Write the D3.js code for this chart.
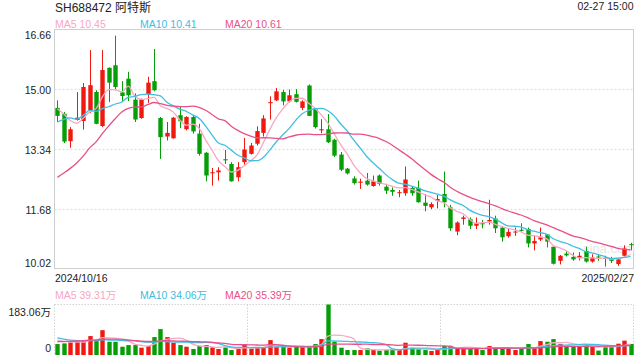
<!DOCTYPE html>
<html><head><meta charset="utf-8">
<script src="https://cdn.jsdelivr.net/npm/d3@7/dist/d3.min.js"></script>
<style>
html,body{margin:0;padding:0;background:#fff}
svg{display:block}
text{font-family:"Liberation Sans",Arial,"Noto Sans CJK SC",sans-serif}
</style>
</head><body>
<svg id="c" width="640" height="360"></svg>
<script>
// ---------- data ----------
const title = "SH688472 阿特斯";
const timeLabel = "02-27 15:00";
const dates = [
"2024/10/16","2024/10/17","2024/10/18","2024/10/21","2024/10/22","2024/10/23","2024/10/24","2024/10/25","2024/10/28","2024/10/29","2024/10/30","2024/10/31",
"2024/11/01","2024/11/04","2024/11/05","2024/11/06","2024/11/07","2024/11/08","2024/11/11","2024/11/12","2024/11/13","2024/11/14","2024/11/15","2024/11/18","2024/11/19","2024/11/20","2024/11/21","2024/11/22","2024/11/25","2024/11/26","2024/11/27","2024/11/28","2024/11/29",
"2024/12/02","2024/12/03","2024/12/04","2024/12/05","2024/12/06","2024/12/09","2024/12/10","2024/12/11","2024/12/12","2024/12/13","2024/12/16","2024/12/17","2024/12/18","2024/12/19","2024/12/20","2024/12/23","2024/12/24","2024/12/25","2024/12/26","2024/12/27","2024/12/30","2024/12/31",
"2025/01/02","2025/01/03","2025/01/06","2025/01/07","2025/01/08","2025/01/09","2025/01/10","2025/01/13","2025/01/14","2025/01/15","2025/01/16","2025/01/17","2025/01/20","2025/01/21","2025/01/22","2025/01/23","2025/01/24","2025/01/27",
"2025/02/05","2025/02/06","2025/02/07","2025/02/10","2025/02/11","2025/02/12","2025/02/13","2025/02/14","2025/02/17","2025/02/18","2025/02/19","2025/02/20","2025/02/21","2025/02/24","2025/02/25","2025/02/26","2025/02/27"
];
const open = [14.49,14.33,13.57,14.16,14.13,14.42,14.93,13.99,15.60,15.67,14.92,15.30,14.72,14.21,14.87,15.23,14.21,13.70,13.65,14.29,
13.90,14.24,13.78,13.25,12.68,12.71,13.07,12.94,12.57,12.99,13.22,13.50,13.80,14.62,14.70,14.93,14.67,14.87,14.49,15.11,
14.47,13.87,13.90,13.61,13.20,12.81,12.54,12.42,12.48,12.33,12.62,12.31,12.22,12.14,12.13,12.28,12.28,11.87,11.74,11.92,
12.11,11.74,11.07,11.42,11.41,11.23,11.30,11.35,11.43,11.18,10.94,11.05,11.12,11.14,10.74,10.85,10.99,10.65,10.26,10.46,
10.37,10.35,10.53,10.24,10.38,10.34,10.32,10.17,10.40,10.72];
const high = [14.70,14.38,13.96,14.93,15.18,16.09,14.98,16.09,15.61,16.49,15.23,15.49,14.89,14.75,15.35,16.12,14.24,14.10,14.24,14.52,
14.26,14.29,14.05,13.27,12.83,12.85,13.33,12.99,12.99,13.66,13.52,13.98,14.29,14.81,15.04,14.99,15.00,15.01,14.70,15.14,
14.49,14.18,14.32,13.64,13.27,12.83,12.60,12.53,12.69,12.62,12.65,12.39,12.29,12.22,12.87,12.31,12.48,12.11,11.88,12.08,
12.73,11.81,11.35,11.51,11.46,11.46,11.39,11.95,11.51,11.20,11.14,11.18,11.30,11.18,10.95,11.18,11.00,10.65,10.42,10.53,
10.49,10.50,10.65,10.44,10.44,10.40,10.37,10.34,10.69,10.76];
const low = [14.10,13.52,13.39,14.14,13.89,14.35,14.04,13.96,14.65,14.98,14.65,14.68,14.10,14.19,14.63,14.95,13.08,13.59,13.64,13.93,
13.87,13.78,13.17,12.46,12.34,12.48,12.94,12.45,12.46,12.92,13.20,13.45,13.70,14.17,14.68,14.56,14.64,14.64,14.43,14.27,
13.92,13.79,13.52,13.13,12.74,12.65,12.37,12.25,12.34,12.31,12.34,12.11,12.06,12.02,12.06,12.06,11.87,11.63,11.69,11.71,
11.74,11.09,10.97,11.26,11.14,11.14,11.16,11.26,11.03,10.79,10.90,10.95,11.07,10.63,10.55,10.81,10.63,10.16,10.16,10.38,
10.26,10.27,10.21,10.21,10.26,10.10,10.20,10.12,10.37,10.55];
const close = [14.27,13.56,13.90,14.22,15.07,15.12,14.05,15.54,15.19,15.07,14.82,14.84,14.17,14.73,15.19,14.98,13.68,13.80,14.22,14.12,
14.24,13.84,13.22,12.62,12.71,12.76,13.04,12.46,12.85,13.34,13.45,13.85,14.20,14.65,14.95,14.67,14.84,14.66,14.67,14.27,
13.96,13.90,13.54,13.17,12.78,12.68,12.41,12.45,12.37,12.46,12.39,12.20,12.17,12.16,12.51,12.13,11.88,11.78,11.83,11.97,
11.88,11.16,11.32,11.46,11.23,11.30,11.27,11.39,11.16,10.91,11.06,11.07,11.09,10.74,10.81,10.91,10.79,10.18,10.40,10.41,
10.30,10.40,10.24,10.35,10.36,10.32,10.26,10.30,10.60,10.70];
// volume, in 万 shares
const volume = [39.7,42,45.7,50.5,54,68.6,50.5,90,48,48,30,36,36,26.5,32.5,65,94,65,44.5,36,
30,21.7,32.5,36,27.7,21.7,27.7,18,21.7,39.7,22.9,26.5,27.7,54,30,30,26.5,30,32.5,30,
39.7,57.7,183.06,48,26.5,18,18,18,24,18,15.6,18,20.5,18,44.5,26.5,20.5,18,14.4,20.5,
32.5,32.5,24,26.5,26.5,24,18,32.5,26.5,26.5,24,18,24,39.7,26.5,50.5,48,57.7,39.7,32.5,
29,31,38,31,16,33,30,41,52,40];
// sessions before 2024/10/16 (not drawn), only to seed the moving averages
const priorCloses = [11.2,11.3,11.2,11.3,10.6,10.7,10.8,11.0,11.1,11.2,12.8,13.5,14.6,14.0,13.75,14.3,14.8,14.6,14.38];
const priorVolumes = [25,28,30,32,30,35,38,40,42,40,90,80,70,60,50,62,58,55,55];
const priceTicks = [16.66, 15.00, 13.34, 11.68, 10.02];
const volumeTicks = [0, 183.06];
const maPeriods = [5, 10, 20];
const maNames = ["MA5", "MA10", "MA20"];
const priceMaLegend = ["10.45", "10.41", "10.61"];
const volumeMaLegend = ["39.31万", "34.06万", "35.39万"];

// ---------- style ----------
const UP = "#f0180f", DOWN = "#069e06";
const maColors = ["#f7a8c3", "#3fbfe2", "#e8508a"];
const maTextColors = ["#f9a6c3", "#3dbde2", "#ea4f86"];
const L = 54.5, R = 633.5, PT = 29.5, PB = 269.5, VT = 304.5, VB = 355;

const svg = d3.select("#c");
svg.append("rect").attr("width", 640).attr("height", 360).attr("fill", "#fff");

const idx = d3.range(dates.length);
const x = d3.scalePoint().domain(idx).range([L, R]).padding(0.45);
const bw = 4.4;
const y = d3.scaleLinear().domain([priceTicks[4], priceTicks[0]]).range([PB, PT]);
const yv = d3.scaleLinear().domain([0, d3.max(volumeTicks)]).range([VB, VT]);

function movingAvg(prior, series, p) {
  const all = prior.concat(series), off = prior.length;
  return series.map((_, i) => d3.mean(all.slice(off + i - p + 1, off + i + 1)));
}

// header
svg.append("text").attr("x", 55).attr("y", 12).attr("font-size", 12).attr("fill", "#222").text(title);
svg.append("text").attr("x", R).attr("y", 10).attr("text-anchor", "end").attr("font-size", 10.5).attr("fill", "#222").text(timeLabel);

function legend(yy, vals) {
  const xs = [55, 140, 225];
  maNames.forEach((n, k) => {
    svg.append("text").attr("x", xs[k]).attr("y", yy).attr("font-size", 10.5)
      .attr("fill", maTextColors[k]).text(n + " " + vals[k]);
  });
}
legend(27.5, priceMaLegend);
legend(299, volumeMaLegend);

// price panel grid
const grid = svg.append("g");
priceTicks.slice(1, 4).forEach(t => {
  grid.append("line").attr("x1", L).attr("x2", R).attr("y1", y(t)).attr("y2", y(t))
    .attr("stroke", "#e2e2e2").attr("stroke-width", 1.5).attr("stroke-dasharray", "2,2");
});
svg.append("rect").attr("x", L).attr("y", PT).attr("width", R - L).attr("height", PB - PT - 1)
  .attr("fill", "none").attr("stroke", "#cfcfcf");

// watermark
svg.append("text").attr("x", 583).attr("y", 253).attr("font-size", 13).attr("fill", "#e6e6e6").text("sina.com");

// price axis
const ay = svg.append("g").attr("transform", `translate(${L},0)`)
  .call(d3.axisLeft(y).tickValues(priceTicks).tickFormat(d3.format(".2f")).tickSize(0).tickPadding(3.5));
ay.select(".domain").remove();
ay.selectAll("text").attr("font-size", 10.5).attr("fill", "#222").style("font-family", null)
  .attr("dy", d => d === priceTicks[0] ? "0.9em" : d === priceTicks[4] ? "-0.28em" : "0.34em");

// candles
const cg = svg.append("g");
idx.forEach(i => {
  const up = close[i] >= open[i];
  const col = up ? UP : DOWN;
  const cx = Math.round(x(i)) + 0.5;
  cg.append("line").attr("x1", cx).attr("x2", cx).attr("y1", y(high[i])).attr("y2", y(low[i]))
    .attr("stroke", col).attr("stroke-width", 1);
  const top = y(Math.max(open[i], close[i])), bot = y(Math.min(open[i], close[i]));
  cg.append("rect").attr("x", cx - bw / 2).attr("y", top).attr("width", bw)
    .attr("height", Math.max(1, bot - top)).attr("fill", col);
});

// price MAs
const line = d3.line().x((d, i) => x(i)).y(d => y(d)).curve(d3.curveMonotoneX);
maPeriods.forEach((p, k) => {
  svg.append("path").datum(movingAvg(priorCloses, close, p)).attr("d", line)
    .attr("fill", "none").attr("stroke", maColors[k]).attr("stroke-width", 1.3);
});

// date labels
svg.append("text").attr("x", 55).attr("y", 281.5).attr("font-size", 10.5).attr("fill", "#222").text(dates[0]);
svg.append("text").attr("x", R + 0.5).attr("y", 281.5).attr("text-anchor", "end").attr("font-size", 10.5).attr("fill", "#222").text(dates[dates.length - 1]);

// volume panel frame
const vf = svg.append("g").attr("stroke", "#d4d4d4").attr("stroke-dasharray", "1.5,1.5").attr("fill", "none");
vf.append("line").attr("x1", L).attr("x2", R).attr("y1", VT).attr("y2", VT);
[L, L + (R - L) / 3, L + 2 * (R - L) / 3, R].forEach(xx => {
  vf.append("line").attr("x1", xx).attr("x2", xx).attr("y1", VT).attr("y2", VB);
});

// volume axis
const av = svg.append("g").attr("transform", `translate(${L},0)`)
  .call(d3.axisLeft(yv).tickValues(volumeTicks).tickFormat(d => d === 0 ? "0" : d3.format(".2f")(d) + "万").tickSize(0).tickPadding(3.5));
av.select(".domain").remove();
av.selectAll("text").attr("font-size", 10.5).attr("fill", "#222").style("font-family", null)
  .attr("dy", d => d === 0 ? "-0.35em" : "1.05em");

// volume bars
idx.forEach(i => {
  const col = close[i] >= open[i] ? UP : DOWN;
  const cx = Math.round(x(i)) + 0.5;
  svg.append("rect").attr("x", cx - bw / 2).attr("y", yv(volume[i])).attr("width", bw)
    .attr("height", VB - yv(volume[i])).attr("fill", col);
});

// volume MAs
const vline = d3.line().x((d, i) => x(i)).y(d => yv(d)).curve(d3.curveMonotoneX);
maPeriods.forEach((p, k) => {
  svg.append("path").datum(movingAvg(priorVolumes, volume, p)).attr("d", vline)
    .attr("fill", "none").attr("stroke", maColors[k]).attr("stroke-width", 1.3);
});
</script>
</body></html>
